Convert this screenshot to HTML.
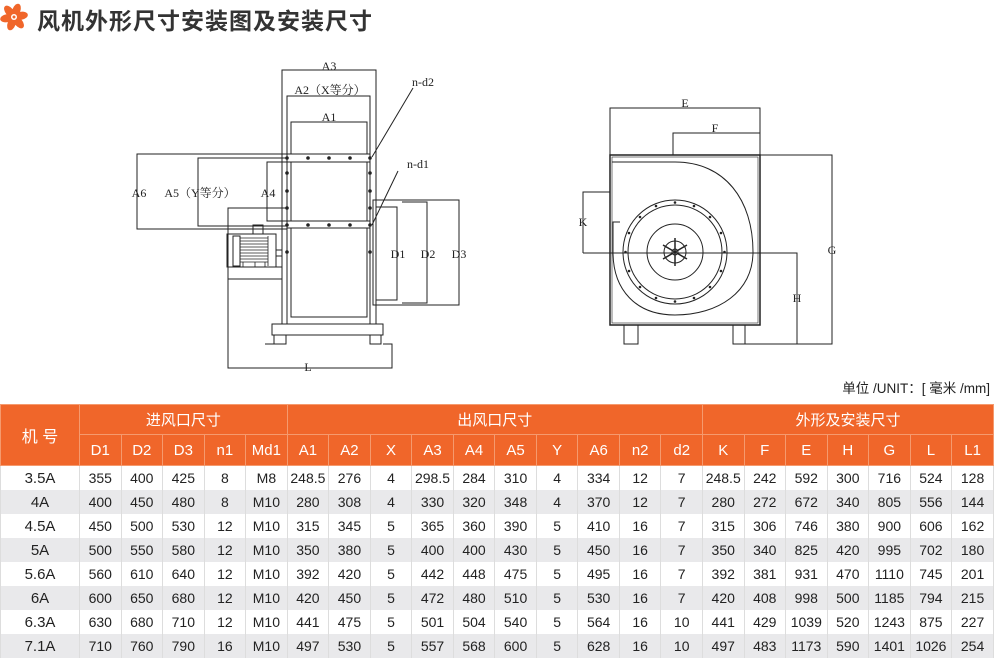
<!DOCTYPE html>
<html><head><meta charset="utf-8"><style>
body{margin:0;width:994px;height:656px;background:#fff;position:relative;overflow:hidden;font-family:"Liberation Sans","Noto Sans CJK SC",sans-serif}
.title{position:absolute;left:37px;top:2px;font-size:23px;font-weight:bold;color:#333;letter-spacing:1px;font-family:"Liberation Sans","Noto Sans CJK SC",sans-serif}
.unit{position:absolute;right:4px;top:377px;font-size:13.5px;color:#222}
table{position:absolute;left:0;top:404px;width:994px;border-collapse:collapse;table-layout:fixed}
th{background:#f0662a;color:#fff;font-weight:normal;font-size:15px;border:1px solid #f59a6e;padding:0;text-align:center}
td{font-size:14px;color:#222;text-align:center;padding:0;height:24px;border-left:1px solid #ddd;border-right:1px solid #ddd}
tr.g td{background:#e9e9eb}
td.n{font-size:15px}
</style></head><body>
<svg style="position:absolute;left:0;top:0" width="30" height="32" viewBox="0 0 30 32">
<g fill="#f0662a" transform="translate(14,17)">
<ellipse cx="0" cy="-7" rx="4" ry="7" transform="rotate(20)"/>
<ellipse cx="0" cy="-7" rx="4" ry="7" transform="rotate(80)"/>
<ellipse cx="0" cy="-7" rx="4" ry="7" transform="rotate(140)"/>
<ellipse cx="0" cy="-7" rx="4" ry="7" transform="rotate(200)"/>
<ellipse cx="0" cy="-7" rx="4" ry="7" transform="rotate(260)"/>
<ellipse cx="0" cy="-7" rx="4" ry="7" transform="rotate(320)"/>
<circle r="3" fill="#fff"/><circle r="1.5"/></g></svg>
<div class="title">风机外形尺寸安装图及安装尺寸</div>

<svg style="position:absolute;left:0;top:0" width="994" height="380" viewBox="0 0 994 380">
<g fill="none" stroke="#222" stroke-width="1">
<rect x="282" y="70" width="94" height="254"/>
<polyline points="287,154 287,96 370,96 370,154"/>
<rect x="291" y="122" width="76" height="32"/>
<rect x="287" y="154" width="83" height="8"/>
<rect x="287" y="221" width="83" height="7"/>
<line x1="287" y1="162" x2="287" y2="324"/><line x1="370" y1="162" x2="370" y2="324"/>
<rect x="291" y="162" width="76" height="59"/>
<rect x="291" y="228" width="76" height="89"/>
<polyline points="287,162 267,162 267,221 287,221"/>
<polyline points="287,158 198,158 198,226 287,226"/>
<polyline points="287,154 137,154 137,229 287,229"/>
<polyline points="287,208 228,208 228,368 392,368 392,344 383,344"/>
<rect x="227" y="234" width="49" height="33"/>
<rect x="233" y="236" width="7" height="30"/>
<g stroke-width="0.8">
<line x1="240" y1="238" x2="268" y2="238"/><line x1="240" y1="241" x2="268" y2="241"/><line x1="240" y1="244" x2="268" y2="244"/><line x1="240" y1="247" x2="268" y2="247"/><line x1="240" y1="250" x2="268" y2="250"/><line x1="240" y1="253" x2="268" y2="253"/><line x1="240" y1="256" x2="268" y2="256"/><line x1="240" y1="259" x2="268" y2="259"/><line x1="240" y1="262" x2="268" y2="262"/>
<line x1="268" y1="236" x2="268" y2="266"/>
<line x1="243" y1="262" x2="243" y2="267"/><line x1="255" y1="262" x2="255" y2="267"/><line x1="265" y1="262" x2="265" y2="267"/>
</g>
<rect x="253" y="225" width="10" height="9"/>
<rect x="276" y="250" width="6" height="6"/>
<rect x="228" y="267" width="54" height="12"/>
<rect x="272" y="324" width="111" height="11"/>
<rect x="274" y="335" width="12" height="9"/><rect x="370" y="335" width="11" height="9"/>
<line x1="265" y1="344" x2="274" y2="344"/>
<polyline points="376,200 459,200 459,305 376,305"/>
<polyline points="376,207 397,207 397,300 376,300"/>
<polyline points="402,202 427,202 427,303 402,303"/>
<rect x="373" y="200" width="3" height="105"/>
<line x1="413" y1="88" x2="372" y2="157"/>
<line x1="398" y1="171" x2="372" y2="225"/>
<polyline points="610,155 610,108 760,108 760,155"/>
<polyline points="673,155 673,133 760,133"/>
<rect x="610" y="155" width="150" height="170" stroke-width="1.5"/>
<rect x="612" y="157" width="146" height="166" stroke-width="0.6"/>
<polyline points="760,155 832,155 832,344 745,344"/>
<polyline points="583,253 797,253 797,344"/>
<polyline points="610,192 583,192 583,253"/>
<rect x="624" y="325" width="14" height="19"/><rect x="733" y="325" width="12" height="19"/>
<path d="M612,162 L675,162 C725,162 753,200 753,252 C753,292 718,315 675,315 C636,315 613,290 613,252 L613,222 L620,222"/>
<circle cx="675" cy="252" r="52"/><circle cx="675" cy="252" r="47"/><circle cx="675" cy="252" r="28"/>
<circle cx="675" cy="252" r="11"/><circle cx="675" cy="252" r="3"/>
<g stroke-width="1.5"><line x1="675" y1="238" x2="675" y2="266"/><line x1="663" y1="245" x2="687" y2="259"/><line x1="663" y1="259" x2="687" y2="245"/></g>
</g>
<g fill="#222">
<circle cx="287" cy="158" r="1.8"/><circle cx="308" cy="158" r="1.8"/><circle cx="329" cy="158" r="1.8"/><circle cx="350" cy="158" r="1.8"/><circle cx="370" cy="158" r="1.8"/>
<circle cx="287" cy="225" r="1.8"/><circle cx="308" cy="225" r="1.8"/><circle cx="329" cy="225" r="1.8"/><circle cx="350" cy="225" r="1.8"/><circle cx="370" cy="225" r="1.8"/>
<circle cx="287" cy="173" r="1.8"/><circle cx="287" cy="191" r="1.8"/><circle cx="287" cy="208" r="1.8"/><circle cx="287" cy="252" r="1.8"/>
<circle cx="370" cy="173" r="1.8"/><circle cx="370" cy="191" r="1.8"/><circle cx="370" cy="208" r="1.8"/><circle cx="370" cy="252" r="1.8"/>
<g transform="translate(675,252)">
<circle cx="0" cy="-49.5" r="1.3"/><circle cx="0" cy="49.5" r="1.3"/><circle cx="49.5" cy="0" r="1.3"/><circle cx="-49.5" cy="0" r="1.3"/>
<circle cx="35" cy="35" r="1.3"/><circle cx="-35" cy="35" r="1.3"/><circle cx="35" cy="-35" r="1.3"/><circle cx="-35" cy="-35" r="1.3"/>
<circle cx="19" cy="46" r="1.3"/><circle cx="-19" cy="46" r="1.3"/><circle cx="19" cy="-46" r="1.3"/><circle cx="-19" cy="-46" r="1.3"/>
<circle cx="46" cy="19" r="1.3"/><circle cx="-46" cy="19" r="1.3"/><circle cx="46" cy="-19" r="1.3"/><circle cx="-46" cy="-19" r="1.3"/>
</g>
</g>
<g font-family="'Liberation Serif','Noto Serif CJK SC',serif" font-size="12" fill="#222" text-anchor="middle">
<text x="329" y="70">A3</text><text x="330" y="94">A2（X等分）</text><text x="329" y="121">A1</text>
<text x="423" y="86">n-d2</text><text x="418" y="168">n-d1</text>
<text x="139" y="197">A6</text><text x="200" y="197">A5（Y等分）</text><text x="268" y="197">A4</text>
<text x="398" y="258">D1</text><text x="428" y="258">D2</text><text x="459" y="258">D3</text>
<text x="308" y="371">L</text>
<text x="685" y="107">E</text><text x="715" y="132">F</text><text x="583" y="226">K</text>
<text x="832" y="254">G</text><text x="797" y="302">H</text>
</g>
</svg>

<div class="unit">单位 /UNIT：[ 毫米 /mm]</div>

<table>
<colgroup><col style="width:79px"><col span="22"></colgroup>
<tr style="height:30px"><th rowspan="2" style="font-size:16px">机 号</th><th colspan="5">进风口尺寸</th><th colspan="10">出风口尺寸</th><th colspan="7">外形及安装尺寸</th></tr>
<tr style="height:31px"><th>D1</th><th>D2</th><th>D3</th><th>n1</th><th>Md1</th><th>A1</th><th>A2</th><th>X</th><th>A3</th><th>A4</th><th>A5</th><th>Y</th><th>A6</th><th>n2</th><th>d2</th><th>K</th><th>F</th><th>E</th><th>H</th><th>G</th><th>L</th><th>L1</th></tr>
<tr><td class="n">3.5A</td><td>355</td><td>400</td><td>425</td><td>8</td><td>M8</td><td>248.5</td><td>276</td><td>4</td><td>298.5</td><td>284</td><td>310</td><td>4</td><td>334</td><td>12</td><td>7</td><td>248.5</td><td>242</td><td>592</td><td>300</td><td>716</td><td>524</td><td>128</td></tr>
<tr class="g"><td class="n">4A</td><td>400</td><td>450</td><td>480</td><td>8</td><td>M10</td><td>280</td><td>308</td><td>4</td><td>330</td><td>320</td><td>348</td><td>4</td><td>370</td><td>12</td><td>7</td><td>280</td><td>272</td><td>672</td><td>340</td><td>805</td><td>556</td><td>144</td></tr>
<tr><td class="n">4.5A</td><td>450</td><td>500</td><td>530</td><td>12</td><td>M10</td><td>315</td><td>345</td><td>5</td><td>365</td><td>360</td><td>390</td><td>5</td><td>410</td><td>16</td><td>7</td><td>315</td><td>306</td><td>746</td><td>380</td><td>900</td><td>606</td><td>162</td></tr>
<tr class="g"><td class="n">5A</td><td>500</td><td>550</td><td>580</td><td>12</td><td>M10</td><td>350</td><td>380</td><td>5</td><td>400</td><td>400</td><td>430</td><td>5</td><td>450</td><td>16</td><td>7</td><td>350</td><td>340</td><td>825</td><td>420</td><td>995</td><td>702</td><td>180</td></tr>
<tr><td class="n">5.6A</td><td>560</td><td>610</td><td>640</td><td>12</td><td>M10</td><td>392</td><td>420</td><td>5</td><td>442</td><td>448</td><td>475</td><td>5</td><td>495</td><td>16</td><td>7</td><td>392</td><td>381</td><td>931</td><td>470</td><td>1110</td><td>745</td><td>201</td></tr>
<tr class="g"><td class="n">6A</td><td>600</td><td>650</td><td>680</td><td>12</td><td>M10</td><td>420</td><td>450</td><td>5</td><td>472</td><td>480</td><td>510</td><td>5</td><td>530</td><td>16</td><td>7</td><td>420</td><td>408</td><td>998</td><td>500</td><td>1185</td><td>794</td><td>215</td></tr>
<tr><td class="n">6.3A</td><td>630</td><td>680</td><td>710</td><td>12</td><td>M10</td><td>441</td><td>475</td><td>5</td><td>501</td><td>504</td><td>540</td><td>5</td><td>564</td><td>16</td><td>10</td><td>441</td><td>429</td><td>1039</td><td>520</td><td>1243</td><td>875</td><td>227</td></tr>
<tr class="g"><td class="n">7.1A</td><td>710</td><td>760</td><td>790</td><td>16</td><td>M10</td><td>497</td><td>530</td><td>5</td><td>557</td><td>568</td><td>600</td><td>5</td><td>628</td><td>16</td><td>10</td><td>497</td><td>483</td><td>1173</td><td>590</td><td>1401</td><td>1026</td><td>254</td></tr>
</table>
</body></html>
